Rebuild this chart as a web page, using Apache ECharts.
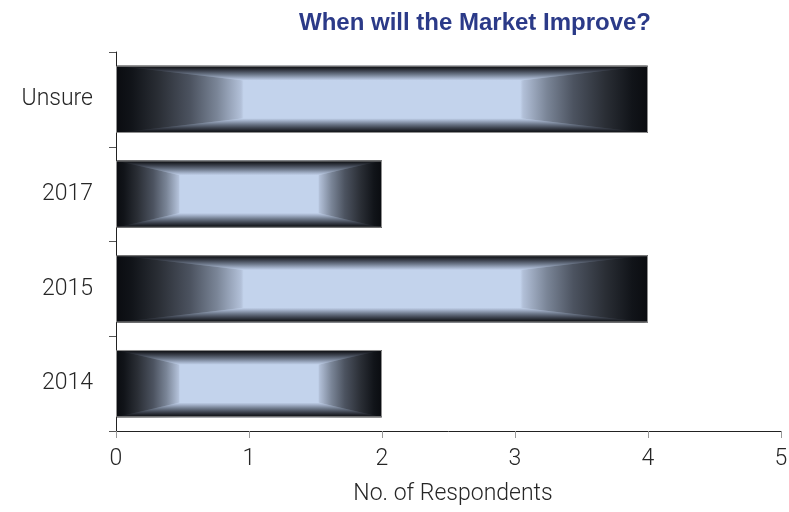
<!DOCTYPE html>
<html>
<head>
<meta charset="utf-8">
<script src="https://cdn.jsdelivr.net/npm/echarts@6/dist/echarts.min.js"></script>
<style>
html,body{margin:0;padding:0;background:#fff;}
#chart{width:789px;height:512px;}
</style>
</head>
<body>
<div id="chart"></div>
<script>
const titleText = 'When will the Market Improve?';
const axisName = 'No. of Respondents';
const categories = ['2014', '2015', '2017', 'Unsure'];
const respondents = [2, 4, 2, 4];
const xTicks = [0, 1, 2, 3, 4, 5];

const chart = echarts.init(document.getElementById('chart'), null, {renderer: 'canvas'});

const LIGHT = '#c3d3ec';
const hStops = [
  {offset: 0, color: '#0a0c10'},
  {offset: 0.03, color: '#111419'},
  {offset: 0.08, color: '#2a2e35'},
  {offset: 0.14, color: '#4c5360'},
  {offset: 0.19, color: '#7a8597'},
  {offset: 0.235, color: '#b2c0d8'},
  {offset: 0.24, color: LIGHT},
  {offset: 0.76, color: LIGHT},
  {offset: 0.765, color: '#b2c0d8'},
  {offset: 0.81, color: '#7a8597'},
  {offset: 0.86, color: '#4c5360'},
  {offset: 0.92, color: '#2a2e35'},
  {offset: 0.97, color: '#111419'},
  {offset: 1, color: '#0a0c10'}
];
const vStops = [
  {offset: 0, color: '#0c0e12'},
  {offset: 0.15, color: '#1c1f25'},
  {offset: 0.35, color: '#3e4450'},
  {offset: 0.6, color: '#6e798b'},
  {offset: 0.85, color: '#a5b3cb'},
  {offset: 1, color: LIGHT}
];

function renderBar(params, api) {
  const v = api.value(0);
  const c = api.value(1);
  const p0 = api.coord([0, c]);
  const p1 = api.coord([v, c]);
  const band = api.size([0, 1])[1];
  const h = band * 0.71;
  const x0 = p0[0], x1 = p1[0], yc = p0[1];
  const y0 = yc - h / 2, y1 = yc + h / 2;
  const w = x1 - x0;
  const dx = w * 0.24, dy = h * 0.22;
  const xi0 = x0 + dx, xi1 = x1 - dx, yi0 = y0 + dy, yi1 = y1 - dy;
  return {
    type: 'group',
    children: [
      {type: 'rect', shape: {x: x0, y: y0, width: w, height: h},
       style: {fill: new echarts.graphic.LinearGradient(0, 0, 1, 0, hStops)}},
      {type: 'polygon', shape: {points: [[x0, y0], [x1, y0], [xi1, yi0], [xi0, yi0]]},
       style: {fill: new echarts.graphic.LinearGradient(0, 0, 0, 1, vStops)}},
      {type: 'polygon', shape: {points: [[x0, y1], [x1, y1], [xi1, yi1], [xi0, yi1]]},
       style: {fill: new echarts.graphic.LinearGradient(0, 1, 0, 0, vStops)}},
      {type: 'rect', shape: {x: x0 + 0.5, y: y0 + 0.5, width: w - 1, height: h - 1},
       style: {fill: null, stroke: '#8e8e8e', lineWidth: 1}}
    ]
  };
}

const labelFont = 'Roboto, "Liberation Sans", sans-serif';

chart.setOption({
  animation: false,
  backgroundColor: '#ffffff',
  title: {
    text: titleText,
    left: 470,
    top: 6,
    textAlign: 'center',
    textStyle: {
      fontFamily: '"Liberation Sans", Arial, sans-serif',
      fontWeight: 'bold',
      fontSize: 24,
      color: '#2b3a88'
    }
  },
  grid: {left: 116, right: 8, top: 52, bottom: 81, containLabel: false, outerBoundsMode: 'none'},
  xAxis: {
    type: 'value',
    min: xTicks[0],
    max: xTicks[xTicks.length - 1],
    interval: 1,
    name: axisName,
    nameLocation: 'middle',
    nameGap: 52,
    nameTextStyle: {fontFamily: labelFont, fontWeight: 300, fontSize: 23, color: '#262626', padding: [0, 0, 0, 9]},
    axisLine: {show: true, lineStyle: {color: '#222222', width: 1}},
    axisTick: {show: true, length: 7, lineStyle: {color: '#999999'}},
    axisLabel: {fontFamily: labelFont, fontWeight: 300, fontSize: 23, color: '#262626', margin: 17},
    splitLine: {show: false}
  },
  yAxis: {
    type: 'category',
    data: categories,
    axisLine: {show: true, lineStyle: {color: '#222222', width: 1}},
    axisTick: {show: true, length: 7, lineStyle: {color: '#555555'}},
    axisLabel: {fontFamily: labelFont, fontWeight: 300, fontSize: 23, color: '#262626', margin: 23},
    splitLine: {show: false}
  },
  series: [{
    type: 'custom',
    renderItem: renderBar,
    encode: {x: 0, y: 1},
    data: respondents.map((v, i) => [v, i]),
    clip: false
  }]
});
</script>
</body>
</html>
